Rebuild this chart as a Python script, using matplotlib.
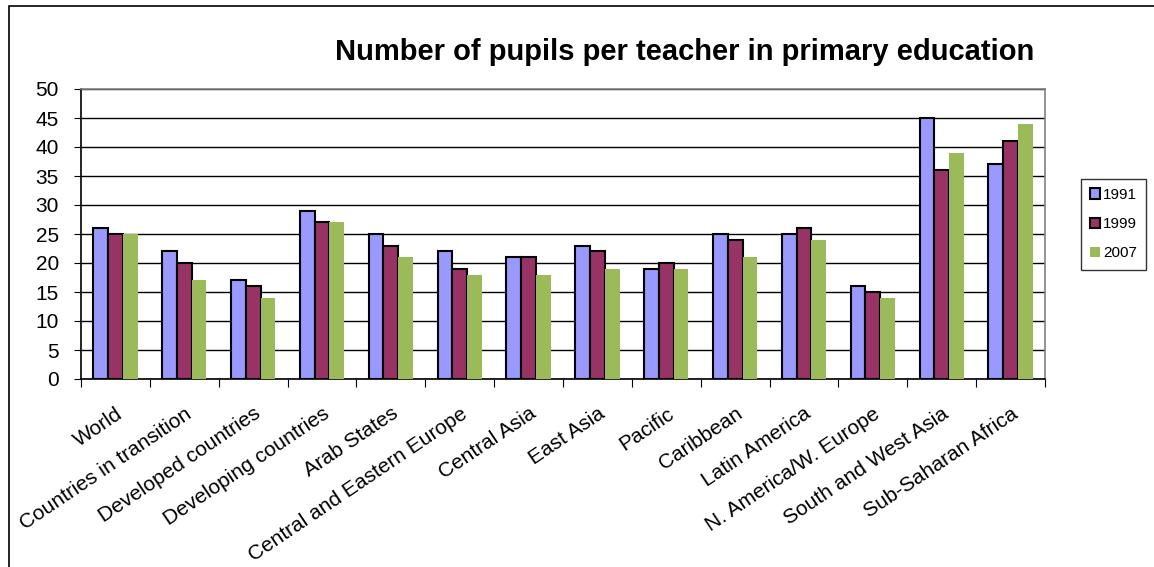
import matplotlib.pyplot as plt
import numpy as np
from matplotlib.patches import Rectangle

plt.rcParams['font.family'] = ['Liberation Sans', 'DejaVu Sans']

categories = [
    "World", "Countries in transition", "Developed countries",
    "Developing countries", "Arab States", "Central and Eastern Europe",
    "Central Asia", "East Asia", "Pacific", "Caribbean", "Latin America",
    "N. America/W. Europe", "South and West Asia", "Sub-Saharan Africa",
]
v1991 = [26, 22, 17, 29, 25, 22, 21, 23, 19, 25, 25, 16, 45, 37]
v1999 = [25, 20, 16, 27, 23, 19, 21, 22, 20, 24, 26, 15, 36, 41]
v2007 = [25, 17, 14, 27, 21, 18, 18, 19, 19, 21, 24, 14, 39, 44]
series_names = ["1991", "1999", "2007"]

W, H = 1154, 567
fig = plt.figure(figsize=(W / 100, H / 100), dpi=100)

# outer frame of the original chart object
fig.patches.append(Rectangle((9 / W, -0.1), 1.2, 1 - 6 / H + 0.1,
                             transform=fig.transFigure, fill=False,
                             edgecolor="black", linewidth=1.2))

ax = fig.add_axes([81 / W, 1 - 379 / H, (1045 - 81) / W, (379 - 89) / H])

x = np.arange(len(categories))
bw = 0.215
ax.bar(x - bw, v1991, bw, color="#9999FF", edgecolor="black", linewidth=1.5,
       label=series_names[0], zorder=3)
ax.bar(x, v1999, bw, color="#993366", edgecolor="black", linewidth=1.5,
       label=series_names[1], zorder=3)
ax.bar(x + bw, v2007, bw, color="#9BBB59", linewidth=0,
       label=series_names[2], zorder=3)

ax.set_xlim(-0.5, len(categories) - 0.5)
ax.set_ylim(0, 50)
ax.set_yticks(range(0, 51, 5))
ax.yaxis.grid(True, color="black", linewidth=1)
ax.set_axisbelow(True)

for s in ax.spines.values():
    s.set_color("#808080")
    s.set_linewidth(1.2)
ax.spines["left"].set_color("black")
ax.spines["bottom"].set_color("black")

# ticks between groups, labels at group centres
ax.set_xticks(np.arange(-0.5, len(categories), 1.0), minor=False)
ax.set_xticklabels([])
ax.set_xticks(x, minor=True)
ax.set_xticklabels(categories, minor=True, rotation=34, ha="right", va="top",
                   rotation_mode="anchor", fontsize=15)
ax.tick_params(axis="x", which="minor", length=0, pad=18)
ax.tick_params(axis="x", which="major", length=6, direction="out")
ax.tick_params(axis="y", labelsize=15, length=5, pad=11)

fig.text(685 / W, 1 - 52 / H, "Number of pupils per teacher in primary education",
         ha="center", va="center", fontsize=21, fontweight="bold")

leg = ax.legend(loc="center left", bbox_to_anchor=(1.037, 0.534),
                frameon=True, fancybox=False, edgecolor="black",
                fontsize=11, handlelength=0.65, handleheight=0.65,
                handletextpad=0.2, borderpad=0.6, labelspacing=1.0,
                borderaxespad=0)
leg.get_frame().set_linewidth(1)

fig.savefig("out.png", dpi=100)
